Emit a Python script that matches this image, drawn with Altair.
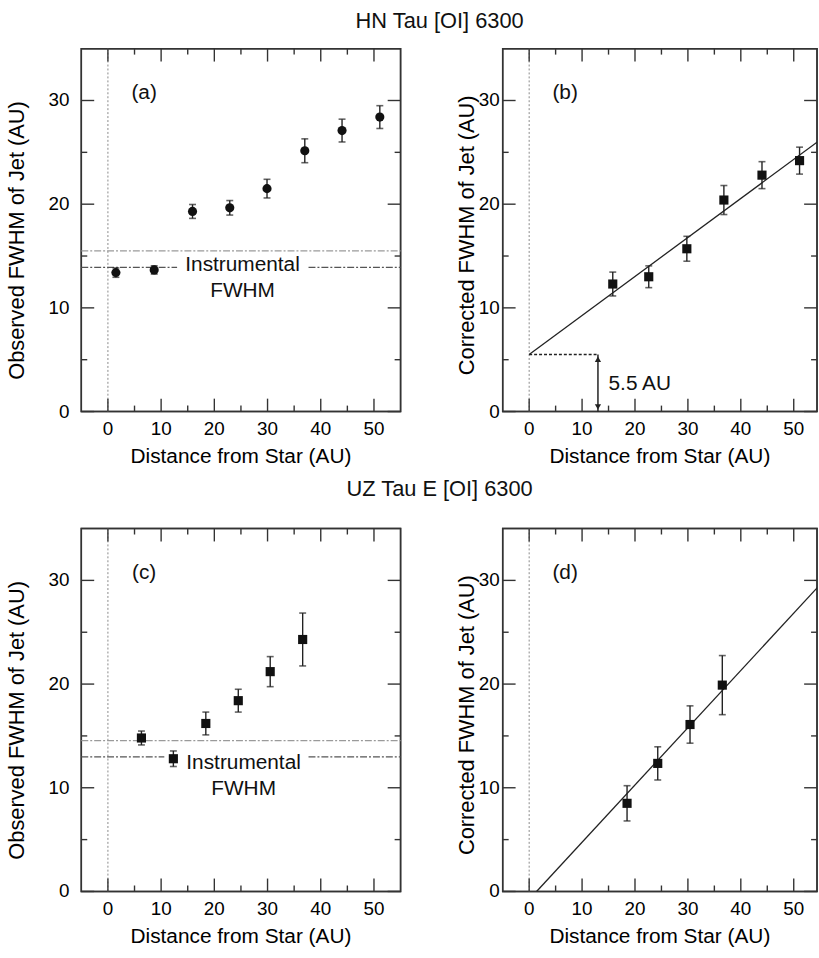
import altair as alt
import pandas as pd

FONT = "Liberation Sans"

# ---------------- data ----------------
# (a) HN Tau observed FWHM
a_x = [1.5, 8.7, 15.9, 22.9, 29.9, 37.0, 44.0, 51.1]
a_y = [13.4, 13.66, 19.3, 19.65, 21.5, 25.15, 27.1, 28.4]
a_err = [0.45, 0.4, 0.67, 0.7, 0.9, 1.15, 1.1, 1.1]
a_instr = [15.5, 13.9]

# (b) HN Tau corrected FWHM
b_x = [15.8, 22.6, 29.8, 36.8, 44.0, 51.1]
b_y = [12.3, 13.0, 15.7, 20.4, 22.8, 24.2]
b_err = [1.15, 1.05, 1.2, 1.4, 1.3, 1.3]
b_fit_x = [0, 55]
b_fit_y = [5.5, 26.2]
b_intercept = 5.5
b_arrow_x = 13.0

# (c) UZ Tau E observed FWHM
c_x = [6.3, 12.3, 18.4, 24.5, 30.5, 36.6]
c_y = [14.8, 12.8, 16.2, 18.4, 21.2, 24.3]
c_err = [0.67, 0.75, 1.1, 1.1, 1.45, 2.55]
c_instr = [14.55, 12.97]

# (d) UZ Tau E corrected FWHM
d_x = [18.5, 24.3, 30.4, 36.5]
d_y = [8.5, 12.35, 16.1, 19.9]
d_err = [1.7, 1.6, 1.8, 2.85]
d_fit_x = [1.4, 55]
d_fit_y = [0, 29.6]

# axes
x_major = [0, 10, 20, 30, 40, 50]
x_minor = [5, 15, 25, 35, 45]
y_major = [0, 10, 20, 30]
y_minor = [5, 15, 25]

XTITLE = "Distance from Star (AU)"
MAJ_PX, MIN_PX = 13, 6  # inward tick lengths in pixels


def panel(letter, xs, ys, errs, shape, xdom, width, height, ytitle,
          ylabpad, ytitlepx, ytitley, instr=None, gap=None, txtpos=None,
          fit=None, intercept=None):
    ydom = [0, 35]
    xsc = alt.Scale(domain=xdom, nice=False, zero=False)
    ysc = alt.Scale(domain=ydom, nice=False, zero=False)
    ux = (xdom[1] - xdom[0]) / width    # data units per pixel
    uy = (ydom[1] - ydom[0]) / height

    def X(f):
        return alt.X(f, type="quantitative", scale=xsc, axis=None)

    def Y(f):
        return alt.Y(f, type="quantitative", scale=ysc, axis=None)

    pts = pd.DataFrame({"x": xs, "y": ys, "e": errs})
    pts["lo"] = pts["y"] - pts["e"]
    pts["hi"] = pts["y"] + pts["e"]

    layers = []
    # frame as an unfilled rectangle over the whole data area
    box = pd.DataFrame({"x": [xdom[0]], "x2": [xdom[1]],
                        "y": [ydom[0]], "y2": [ydom[1]]})
    layers.append(alt.Chart(box).mark_rect(
        filled=False, color="#333", strokeWidth=1.5).encode(
        x=X("x"), x2="x2", y=Y("y"), y2="y2"))

    # vertical dotted line at x = 0
    layers.append(alt.Chart(pd.DataFrame({"x": [0]})).mark_rule(
        color="#8a8a8a", strokeWidth=1, strokeDash=[2, 2]).encode(x=X("x")))

    # inward frame ticks on all four sides (thin rectangles)
    vrows, hrows = [], []
    for vals, px in [(x_major, MAJ_PX), (x_minor, MIN_PX)]:
        for v in vals:
            vrows.append({"x": v - 0.7 * ux, "x2": v + 0.7 * ux,
                          "y": ydom[0], "y2": ydom[0] + px * uy})
            vrows.append({"x": v - 0.7 * ux, "x2": v + 0.7 * ux,
                          "y": ydom[1], "y2": ydom[1] - px * uy})
    for vals, px in [(y_major, MAJ_PX), (y_minor, MIN_PX)]:
        for v in vals:
            hrows.append({"y": v - 0.7 * uy, "y2": v + 0.7 * uy,
                          "x": xdom[0], "x2": xdom[0] + px * ux})
            hrows.append({"y": v - 0.7 * uy, "y2": v + 0.7 * uy,
                          "x": xdom[1], "x2": xdom[1] - px * ux})
    layers.append(alt.Chart(pd.DataFrame(vrows + hrows)).mark_rect(
        color="#333").encode(x=X("x"), x2="x2", y=Y("y"), y2="y2"))

    # tick labels and axis titles as text
    xl = pd.DataFrame({"x": x_major, "y": [ydom[0]] * len(x_major),
                       "t": [str(v) for v in x_major]})
    layers.append(alt.Chart(xl).mark_text(
        font=FONT, fontSize=19, color="black", align="center",
        baseline="middle", dy=18).encode(x=X("x"), y=Y("y"), text="t:N"))
    yl = pd.DataFrame({"x": [xdom[0]] * len(y_major), "y": y_major,
                       "t": [str(v) for v in y_major]})
    layers.append(alt.Chart(yl).mark_text(
        font=FONT, fontSize=19, color="black", align="right",
        baseline="middle", dx=-ylabpad).encode(x=X("x"), y=Y("y"), text="t:N"))
    xt = pd.DataFrame({"x": [(xdom[0] + xdom[1]) / 2], "y": [ydom[0]],
                       "t": [XTITLE]})
    layers.append(alt.Chart(xt).mark_text(
        font=FONT, fontSize=21, color="black", align="center",
        baseline="middle", dy=46).encode(x=X("x"), y=Y("y"), text="t:N"))
    yt = pd.DataFrame({"x": [xdom[0] - ytitlepx * ux], "y": [ytitley],
                       "t": [ytitle]})
    layers.append(alt.Chart(yt).mark_text(
        font=FONT, fontSize=22, color="black", align="center",
        baseline="middle", angle=270).encode(x=X("x"), y=Y("y"), text="t:N"))

    if instr is not None:
        up = pd.DataFrame({"x": [xdom[0]], "x2": [xdom[1]], "y": [instr[0]]})
        layers.append(alt.Chart(up).mark_rule(
            color="#9a9a9a", strokeWidth=1.3, strokeDash=[7, 2, 2, 2]).encode(
            x=X("x"), x2="x2", y=Y("y")))
        lo = pd.DataFrame({"x": [xdom[0], gap[1]], "x2": [gap[0], xdom[1]],
                           "y": [instr[1], instr[1]]})
        layers.append(alt.Chart(lo).mark_rule(
            color="#555", strokeWidth=1.3, strokeDash=[7, 2, 2, 2]).encode(
            x=X("x"), x2="x2", y=Y("y")))
        txt = pd.DataFrame({"x": [txtpos[0][0], txtpos[1][0]],
                            "y": [txtpos[0][1], txtpos[1][1]],
                            "t": ["Instrumental", "FWHM"]})
        layers.append(alt.Chart(txt).mark_text(
            font=FONT, fontSize=21, color="#111", align="center",
            baseline="middle").encode(x=X("x"), y=Y("y"), text="t:N"))

    if fit is not None:
        fdf = pd.DataFrame({"x": fit[0], "y": fit[1]})
        layers.append(alt.Chart(fdf).mark_line(
            color="#222", strokeWidth=1.3, clip=True).encode(x=X("x"), y=Y("y")))

    if intercept is not None:
        h = pd.DataFrame({"x": [0], "x2": [b_arrow_x], "y": [intercept]})
        layers.append(alt.Chart(h).mark_rule(
            color="#222", strokeWidth=1.6, strokeDash=[3, 2]).encode(
            x=X("x"), x2="x2", y=Y("y")))
        v = pd.DataFrame({"x": [b_arrow_x], "y": [0], "y2": [intercept]})
        layers.append(alt.Chart(v).mark_rule(
            color="#222", strokeWidth=1.5).encode(x=X("x"), y=Y("y"), y2="y2"))
        heads = pd.DataFrame({"x": [b_arrow_x, b_arrow_x],
                              "y": [intercept - 0.45, 0.45],
                              "s": ["triangle-up", "triangle-down"]})
        layers.append(alt.Chart(heads).mark_point(
            filled=True, color="#222", size=40, opacity=1).encode(
            x=X("x"), y=Y("y"),
            shape=alt.Shape("s:N", scale=None, legend=None)))
        lab = pd.DataFrame({"x": [b_arrow_x + 2.0], "y": [2.7], "t": ["5.5 AU"]})
        layers.append(alt.Chart(lab).mark_text(
            font=FONT, fontSize=21, color="#111", align="left",
            baseline="middle").encode(x=X("x"), y=Y("y"), text="t:N"))

    # error bars
    layers.append(alt.Chart(pts).mark_rule(color="#222", strokeWidth=1.4).encode(
        x=X("x"), y=Y("lo"), y2="hi"))
    for f in ["lo", "hi"]:
        layers.append(alt.Chart(pts).mark_tick(
            orient="horizontal", size=7, thickness=1.6, color="#222").encode(
            x=X("x"), y=Y(f)))
    # points
    layers.append(alt.Chart(pts).mark_point(
        shape=shape, filled=True, size=85, color="#111", opacity=1).encode(
        x=X("x"), y=Y("y")))

    # panel letter
    let = pd.DataFrame({"x": [6.8], "y": [30.7], "t": [f"({letter})"]})
    layers.append(alt.Chart(let).mark_text(
        font=FONT, fontSize=21, color="#111", align="center",
        baseline="middle").encode(x=X("x"), y=Y("y"), text="t:N"))

    return alt.layer(*layers).properties(width=width, height=height)


LW, RW, H = 322, 317, 366
LDOM, RDOM = [-5, 55], [-5, 54.4]

pa = panel("a", a_x, a_y, a_err, "circle", LDOM, LW, H,
           "Observed FWHM of Jet (AU)", 12, 65, 16.5,
           instr=a_instr, gap=[13.0, 37.7],
           txtpos=[(25.3, 14.1), (25.3, 11.6)])
pb = panel("b", b_x, b_y, b_err, "square", RDOM, RW, H,
           "Corrected FWHM of Jet (AU)", 3, 36, 17.0,
           fit=[b_fit_x, b_fit_y], intercept=b_intercept)
pc = panel("c", c_x, c_y, c_err, "square", LDOM, LW, H,
           "Observed FWHM of Jet (AU)", 12, 65, 16.5,
           instr=c_instr, gap=[10.6, 37.7],
           txtpos=[(25.5, 12.35), (25.5, 9.85)])
pd_ = panel("d", d_x, d_y, d_err, "square", RDOM, RW, H,
            "Corrected FWHM of Jet (AU)", 3, 36, 17.0,
            fit=[d_fit_x, d_fit_y])


def row_title(t, offset):
    return alt.TitleParams(t, font=FONT, fontSize=22, fontWeight="normal",
                           color="#111", anchor="middle", offset=offset, dx=28)


row1 = alt.hconcat(pa, pb, spacing=53, title=row_title("HN Tau [OI] 6300", 14))
row2 = alt.hconcat(pc, pd_, spacing=53, title=row_title("UZ Tau E [OI] 6300", 26))

chart = alt.vconcat(row1, row2, spacing=10).properties(
    padding={"left": 5, "top": 6, "right": 0, "bottom": 0},
    background="white",
).configure_view(stroke="#333", strokeWidth=1.5)

chart.save("out.html", embed_options={"renderer": "svg", "actions": False})
